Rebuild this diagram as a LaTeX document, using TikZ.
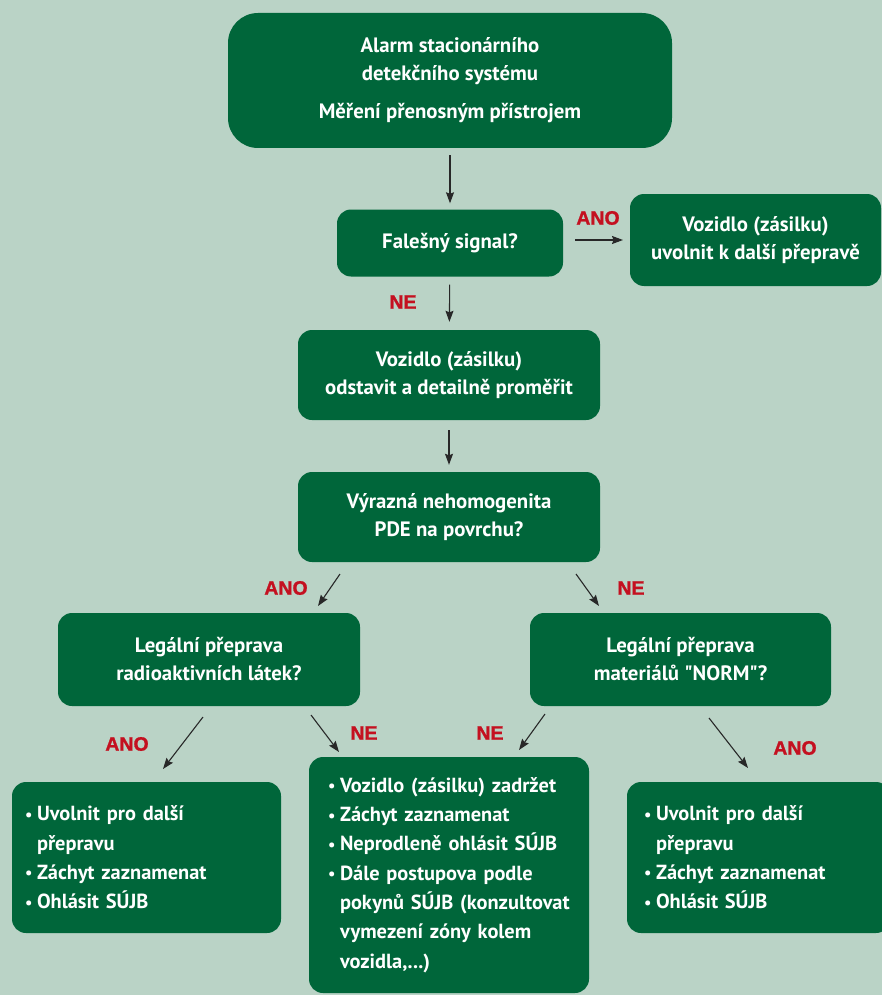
\documentclass[tikz,border=0pt]{standalone}
\usepackage{fontspec}
\setmainfont{PT Sans}
\newfontfamily\qfont[Ligatures=TeXOff]{PT Sans}
\newfontfamily\lblfont[BoldFeatures={FakeBold=1.2}]{Liberation Sans}
\usetikzlibrary{arrows.meta}
\definecolor{bg}{RGB}{186,211,198}
\definecolor{boxgreen}{RGB}{0,102,58}
\definecolor{lblred}{RGB}{196,16,32}
\definecolor{arrowgray}{RGB}{40,40,40}
\newcommand\bitem{\makebox[12pt][l]{\raisebox{0.5pt}{\scalebox{0.8}{\textbullet}}}}
\newcommand\bcont{\hspace*{12pt}}
\newcommand\sq{{\qfont\bfseries"}}
\begin{document}
\begin{tikzpicture}[x=1pt,y=-1pt,
  box/.style={fill=boxgreen, rounded corners=14pt, text=white,
    font=\fontsize{20.8}{28}\selectfont\bfseries, align=center, inner sep=0pt},
  listbox/.style={box, align=left, font=\fontsize{20.4}{29.3}\selectfont\bfseries},
  lbl/.style={text=lblred, font=\lblfont\fontsize{19.5}{19.5}\selectfont\bfseries, inner sep=0pt},
  arr/.style={draw=arrowgray, line width=1.1pt, -{Stealth[length=11pt,width=8pt,inset=1.5pt]}}
]
\fill[bg] (0,0) rectangle (882,995);
\useasboundingbox (0,0) rectangle (882,995);

\node[box, rounded corners=30pt, minimum width=444pt, minimum height=135pt] (top) at (450,80.5)
  {Alarm stacionárního\\detekčního systému\\[10pt]Měření přenosným přístrojem};
\node[box, minimum width=226pt, minimum height=67pt] (fal) at (450,243) {Falešný signal?};
\node[box, minimum width=251pt, minimum height=92pt] (rel) at (755.5,240)
  {Vozidlo (zásilku)\\uvolnit k další přepravě};
\node[box, minimum width=302pt, minimum height=90pt] (odst) at (449,375)
  {Vozidlo (zásilku)\\odstavit a detailně proměřit};
\node[box, minimum width=302pt, minimum height=90pt] (vyr) at (449,517)
  {Výrazná nehomogenita\\PDE na povrchu?};
\node[box, minimum width=302pt, minimum height=93pt] (legL) at (209,659.5)
  {Legální přeprava\\radioaktivních látek?};
\node[box, minimum width=301pt, minimum height=93pt] (legR) at (680.5,659.5)
  {Legální přeprava\\materiálů \sq NORM\sq?};

\node[listbox, minimum width=269pt, minimum height=151pt, inner xsep=13pt, text width=243pt] (botL) at (146.5,857.5)
  {\bitem Uvolnit pro další\\\bcont přepravu\\\bitem Záchyt zaznamenat\\\bitem Ohlásit SÚJB};
\node[listbox, minimum width=280pt, minimum height=236pt, inner xsep=19pt, text width=242pt] (botM) at (449,875)
  {\bitem Vozidlo (zásilku) zadržet\\\bitem Záchyt zaznamenat\\\bitem Neprodleně ohlásit SÚJB\\\bitem Dále postupova podle\\\bcont pokynů SÚJB (konzultovat\\\bcont vymezení zóny kolem\\\bcont vozidla,...)};
\node[listbox, minimum width=263pt, minimum height=151pt, inner xsep=17pt, text width=229pt] (botR) at (758.5,857.5)
  {\bitem Uvolnit pro další\\\bcont přepravu\\\bitem Záchyt zaznamenat\\\bitem Ohlásit SÚJB};

% vertical arrows
\draw[arr, shorten <=7pt, shorten >=6pt] (top) -- (fal);
\draw[arr, shorten <=8pt, shorten >=8pt] (fal) -- (odst);
\draw[arr, shorten <=10pt, shorten >=7pt] (odst) -- (vyr);

% other arrows
\coordinate (h1s) at (575,240); \coordinate (h1e) at (623,240);
\draw[arr] (h1s) -- (h1e);
\coordinate (d1s) at (340,574); \coordinate (d1e) at (318,606);
\coordinate (d2s) at (576,574); \coordinate (d2e) at (599,606);
\coordinate (d3s) at (203,717); \coordinate (d3e) at (163,769);
\coordinate (d4s) at (311,715); \coordinate (d4e) at (339,752);
\coordinate (d5s) at (545,714); \coordinate (d5e) at (519,750);
\coordinate (d6s) at (709,718); \coordinate (d6e) at (748,768);
\draw[arr] (d1s) -- (d1e);
\draw[arr] (d2s) -- (d2e);
\draw[arr] (d3s) -- (d3e);
\draw[arr] (d4s) -- (d4e);
\draw[arr] (d5s) -- (d5e);
\draw[arr] (d6s) -- (d6e);

% labels
\node[lbl] (l1) at (598,218) {ANO};
\node[lbl] (l2) at (403,302) {NE};
\node[lbl] (l3) at (286,588) {ANO};
\node[lbl] (l4) at (631,588) {NE};
\node[lbl] (l5) at (127,744) {ANO};
\node[lbl] (l6) at (364,733) {NE};
\node[lbl] (l7) at (490,733) {NE};
\node[lbl] (l8) at (795,748) {ANO};
\end{tikzpicture}
\end{document}
